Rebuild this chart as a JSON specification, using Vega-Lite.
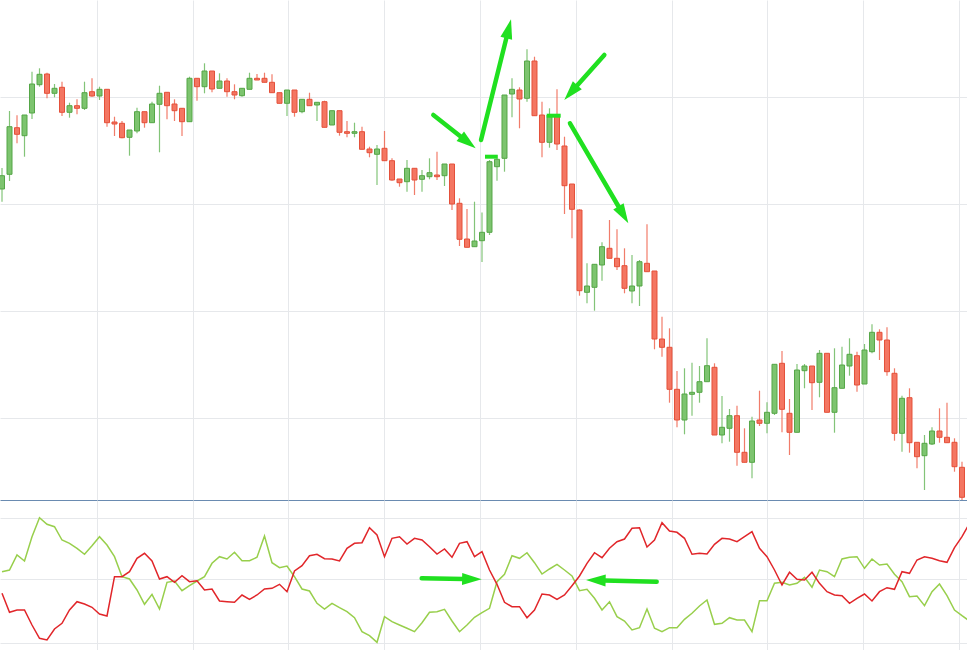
{
  "$schema": "https://vega.github.io/schema/vega-lite/v6.json",
  "description": "Candlestick chart with a vortex-style indicator underneath and green annotation arrows",
  "background": "white",
  "padding": 0,
  "spacing": 0,
  "bounds": "flush",
  "resolve": {"scale": {"color": "independent", "fill": "independent", "stroke": "independent"}},
  "config": {
    "view": {"stroke": null},
    "axis": {"labels": false, "ticks": false, "domain": false, "grid": true, "gridColor": "#e6e8eb", "gridWidth": 1}
  },
  "datasets": {
    "candles": [
      {"i":0,"open":131.1,"high":133.2,"low":129.83,"close":132.43},
      {"i":1,"open":132.57,"high":138.9,"low":131.9,"close":137.33},
      {"i":2,"open":137.23,"high":138.47,"low":135.67,"close":136.57},
      {"i":3,"open":136.43,"high":138.5,"low":134.33,"close":138.5},
      {"i":4,"open":138.7,"high":142.83,"low":138.1,"close":141.6},
      {"i":5,"open":141.53,"high":143.17,"low":141.33,"close":142.57},
      {"i":6,"open":142.6,"high":142.73,"low":140.17,"close":140.67},
      {"i":7,"open":140.67,"high":141.6,"low":140.27,"close":141.17},
      {"i":8,"open":141.27,"high":141.83,"low":138.4,"close":138.77},
      {"i":9,"open":138.77,"high":139.73,"low":138.23,"close":139.43},
      {"i":10,"open":139.43,"high":140.07,"low":138.57,"close":139.17},
      {"i":11,"open":139.17,"high":141.83,"low":139.0,"close":140.73},
      {"i":12,"open":140.83,"high":142.17,"low":140.33,"close":140.4},
      {"i":13,"open":140.4,"high":141.33,"low":140.0,"close":141.07},
      {"i":14,"open":141.07,"high":141.07,"low":137.33,"close":137.73},
      {"i":15,"open":137.8,"high":138.33,"low":136.4,"close":137.6},
      {"i":16,"open":137.67,"high":137.9,"low":136.17,"close":136.23},
      {"i":17,"open":136.27,"high":137.0,"low":134.43,"close":137.0},
      {"i":18,"open":136.9,"high":139.23,"low":136.67,"close":138.83},
      {"i":19,"open":138.83,"high":138.83,"low":137.23,"close":137.73},
      {"i":20,"open":137.73,"high":139.83,"low":137.73,"close":139.6},
      {"i":21,"open":139.57,"high":141.43,"low":134.77,"close":140.67},
      {"i":22,"open":140.77,"high":140.77,"low":138.07,"close":139.43},
      {"i":23,"open":139.6,"high":140.07,"low":137.9,"close":138.93},
      {"i":24,"open":139.17,"high":139.17,"low":136.4,"close":137.83},
      {"i":25,"open":137.83,"high":142.33,"low":137.83,"close":142.17},
      {"i":26,"open":142.17,"high":142.17,"low":139.93,"close":141.33},
      {"i":27,"open":141.33,"high":143.67,"low":140.67,"close":142.9},
      {"i":28,"open":142.9,"high":142.9,"low":140.77,"close":141.1},
      {"i":29,"open":141.17,"high":142.67,"low":141.17,"close":141.9},
      {"i":30,"open":141.9,"high":142.17,"low":140.33,"close":140.83},
      {"i":31,"open":140.83,"high":141.57,"low":140.07,"close":140.5},
      {"i":32,"open":140.43,"high":141.17,"low":140.33,"close":141.17},
      {"i":33,"open":141.07,"high":142.73,"low":141.07,"close":142.17},
      {"i":34,"open":142.17,"high":142.6,"low":142.0,"close":142.0},
      {"i":35,"open":142.17,"high":142.73,"low":141.77,"close":141.77},
      {"i":36,"open":141.77,"high":142.57,"low":140.73,"close":140.73},
      {"i":37,"open":140.73,"high":140.73,"low":139.67,"close":139.67},
      {"i":38,"open":139.67,"high":141.0,"low":138.4,"close":141.0},
      {"i":39,"open":141.0,"high":141.0,"low":138.33,"close":138.77},
      {"i":40,"open":138.83,"high":140.07,"low":138.67,"close":140.07},
      {"i":41,"open":140.07,"high":140.73,"low":139.43,"close":139.43},
      {"i":42,"open":139.5,"high":139.77,"low":137.9,"close":139.77},
      {"i":43,"open":139.83,"high":139.93,"low":137.27,"close":137.27},
      {"i":44,"open":137.5,"high":138.93,"low":137.5,"close":138.93},
      {"i":45,"open":138.93,"high":138.93,"low":136.43,"close":136.77},
      {"i":46,"open":136.83,"high":137.9,"low":136.27,"close":136.67},
      {"i":47,"open":136.67,"high":137.73,"low":136.27,"close":136.83},
      {"i":48,"open":136.83,"high":137.33,"low":135.07,"close":135.07},
      {"i":49,"open":135.1,"high":135.33,"low":134.27,"close":134.73},
      {"i":50,"open":134.57,"high":135.5,"low":131.5,"close":135.1},
      {"i":51,"open":135.17,"high":136.9,"low":133.93,"close":133.93},
      {"i":52,"open":133.93,"high":134.17,"low":131.93,"close":132.0},
      {"i":53,"open":132.1,"high":132.1,"low":131.33,"close":131.73},
      {"i":54,"open":131.83,"high":134.0,"low":130.83,"close":133.17},
      {"i":55,"open":133.17,"high":133.17,"low":130.5,"close":132.0},
      {"i":56,"open":132.07,"high":133.0,"low":130.83,"close":132.43},
      {"i":57,"open":132.33,"high":134.17,"low":132.07,"close":132.73},
      {"i":58,"open":132.5,"high":134.83,"low":132.0,"close":132.33},
      {"i":59,"open":132.43,"high":133.6,"low":131.4,"close":133.6},
      {"i":60,"open":133.6,"high":133.6,"low":129.0,"close":129.6},
      {"i":61,"open":129.67,"high":130.17,"low":125.4,"close":126.07},
      {"i":62,"open":126.1,"high":129.1,"low":125.27,"close":125.27},
      {"i":63,"open":125.33,"high":129.83,"low":125.33,"close":125.9},
      {"i":64,"open":125.93,"high":128.75,"low":123.8,"close":126.77},
      {"i":65,"open":126.77,"high":134.0,"low":126.5,"close":133.83},
      {"i":66,"open":133.33,"high":134.5,"low":131.93,"close":134.07},
      {"i":67,"open":134.17,"high":140.5,"low":132.83,"close":140.5},
      {"i":68,"open":140.6,"high":142.17,"low":138.27,"close":141.07},
      {"i":69,"open":141.0,"high":141.27,"low":137.17,"close":140.1},
      {"i":70,"open":140.17,"high":145.07,"low":139.83,"close":143.9},
      {"i":71,"open":143.9,"high":144.33,"low":138.43,"close":138.43},
      {"i":72,"open":138.5,"high":139.83,"low":134.27,"close":135.77},
      {"i":73,"open":135.77,"high":139.17,"low":135.23,"close":138.5},
      {"i":74,"open":138.5,"high":141.07,"low":135.0,"close":135.6},
      {"i":75,"open":135.4,"high":136.33,"low":128.6,"close":131.43},
      {"i":76,"open":131.6,"high":131.6,"low":126.17,"close":129.07},
      {"i":77,"open":129.0,"high":129.07,"low":120.43,"close":120.93},
      {"i":78,"open":120.77,"high":123.67,"low":119.67,"close":121.4},
      {"i":79,"open":121.27,"high":123.57,"low":118.93,"close":123.57},
      {"i":80,"open":123.5,"high":125.77,"low":121.93,"close":125.33},
      {"i":81,"open":125.17,"high":128.0,"low":124.17,"close":124.17},
      {"i":82,"open":124.17,"high":127.07,"low":123.0,"close":123.33},
      {"i":83,"open":123.43,"high":125.17,"low":120.67,"close":121.17},
      {"i":84,"open":120.9,"high":124.5,"low":119.67,"close":121.4},
      {"i":85,"open":121.4,"high":124.0,"low":119.4,"close":123.83},
      {"i":86,"open":123.67,"high":127.57,"low":122.83,"close":122.83},
      {"i":87,"open":122.9,"high":122.9,"low":115.07,"close":116.1},
      {"i":88,"open":116.1,"high":118.33,"low":114.33,"close":115.27},
      {"i":89,"open":115.27,"high":117.17,"low":109.73,"close":111.07},
      {"i":90,"open":111.07,"high":112.9,"low":107.27,"close":108.0},
      {"i":91,"open":108.0,"high":113.17,"low":106.57,"close":110.6},
      {"i":92,"open":110.57,"high":113.73,"low":108.43,"close":110.77},
      {"i":93,"open":110.77,"high":113.4,"low":109.73,"close":111.83},
      {"i":94,"open":111.83,"high":116.17,"low":111.83,"close":113.43},
      {"i":95,"open":113.27,"high":113.67,"low":106.5,"close":106.5},
      {"i":96,"open":106.5,"high":110.4,"low":105.67,"close":107.27},
      {"i":97,"open":107.17,"high":109.1,"low":105.83,"close":108.43},
      {"i":98,"open":108.43,"high":109.43,"low":103.43,"close":104.77},
      {"i":99,"open":104.77,"high":107.17,"low":103.77,"close":103.77},
      {"i":100,"open":103.77,"high":108.33,"low":102.17,"close":107.9},
      {"i":101,"open":108.0,"high":110.93,"low":107.4,"close":107.67},
      {"i":102,"open":107.67,"high":109.77,"low":106.67,"close":108.77},
      {"i":103,"open":108.67,"high":113.57,"low":108.5,"close":113.57},
      {"i":104,"open":113.67,"high":114.9,"low":106.77,"close":109.07},
      {"i":105,"open":108.67,"high":110.1,"low":104.5,"close":106.77},
      {"i":106,"open":106.77,"high":113.6,"low":106.77,"close":113.0},
      {"i":107,"open":112.93,"high":113.6,"low":111.17,"close":113.4},
      {"i":108,"open":113.4,"high":113.4,"low":109.0,"close":111.73},
      {"i":109,"open":111.77,"high":115.0,"low":110.27,"close":114.67},
      {"i":110,"open":114.67,"high":114.67,"low":108.77,"close":108.77},
      {"i":111,"open":108.77,"high":115.17,"low":106.73,"close":111.23},
      {"i":112,"open":111.17,"high":115.33,"low":111.17,"close":113.5},
      {"i":113,"open":113.4,"high":116.17,"low":112.43,"close":114.57},
      {"i":114,"open":114.43,"high":114.83,"low":110.83,"close":111.5},
      {"i":115,"open":111.6,"high":115.6,"low":111.6,"close":115.0},
      {"i":116,"open":114.83,"high":117.57,"low":114.67,"close":116.77},
      {"i":117,"open":116.77,"high":117.07,"low":114.0,"close":116.0},
      {"i":118,"open":116.0,"high":117.27,"low":112.43,"close":112.83},
      {"i":119,"open":112.67,"high":113.17,"low":105.93,"close":106.67},
      {"i":120,"open":106.67,"high":110.43,"low":104.83,"close":110.17},
      {"i":121,"open":110.23,"high":111.17,"low":104.73,"close":105.73},
      {"i":122,"open":105.77,"high":105.77,"low":103.17,"close":104.33},
      {"i":123,"open":104.43,"high":106.5,"low":101.0,"close":105.67},
      {"i":124,"open":105.6,"high":107.27,"low":105.5,"close":106.9},
      {"i":125,"open":106.9,"high":109.17,"low":105.73,"close":106.27},
      {"i":126,"open":106.27,"high":109.73,"low":105.73,"close":105.73},
      {"i":127,"open":105.77,"high":106.17,"low":102.83,"close":103.33},
      {"i":128,"open":103.27,"high":103.83,"low":99.73,"close":100.27}
    ],
    "vortex": [
      {"i":0,"plus":1.033,"minus":0.817},{"i":1,"plus":1.05,"minus":0.627},{"i":2,"plus":1.2,"minus":0.65},
      {"i":3,"plus":1.14,"minus":0.65},{"i":4,"plus":1.383,"minus":0.5},{"i":5,"plus":1.573,"minus":0.367},
      {"i":6,"plus":1.507,"minus":0.35},{"i":7,"plus":1.483,"minus":0.46},{"i":8,"plus":1.35,"minus":0.517},
      {"i":9,"plus":1.317,"minus":0.65},{"i":10,"plus":1.267,"minus":0.733},{"i":11,"plus":1.207,"minus":0.71},
      {"i":12,"plus":1.293,"minus":0.677},{"i":13,"plus":1.383,"minus":0.61},{"i":14,"plus":1.3,"minus":0.59},
      {"i":15,"plus":1.183,"minus":0.983},{"i":16,"plus":0.983,"minus":0.983},{"i":17,"plus":0.96,"minus":1.033},
      {"i":18,"plus":0.85,"minus":1.167},{"i":19,"plus":0.707,"minus":1.217},{"i":20,"plus":0.807,"minus":1.14},
      {"i":21,"plus":0.66,"minus":0.96},{"i":22,"plus":0.927,"minus":0.983},{"i":23,"plus":0.94,"minus":0.927},
      {"i":24,"plus":0.843,"minus":0.993},{"i":25,"plus":0.893,"minus":0.933},{"i":26,"plus":0.94,"minus":0.943},
      {"i":27,"plus":0.983,"minus":0.85},{"i":28,"plus":1.117,"minus":0.86},{"i":29,"plus":1.183,"minus":0.74},
      {"i":30,"plus":1.16,"minus":0.733},{"i":31,"plus":1.227,"minus":0.727},{"i":32,"plus":1.143,"minus":0.8},
      {"i":33,"plus":1.143,"minus":0.757},{"i":34,"plus":1.177,"minus":0.8},{"i":35,"plus":1.39,"minus":0.86},
      {"i":36,"plus":1.123,"minus":0.867},{"i":37,"plus":1.073,"minus":0.907},{"i":38,"plus":1.09,"minus":0.833},
      {"i":39,"plus":0.983,"minus":1.04},{"i":40,"plus":0.86,"minus":1.093},{"i":41,"plus":0.84,"minus":1.193},
      {"i":42,"plus":0.717,"minus":1.207},{"i":43,"plus":0.66,"minus":1.163},{"i":44,"plus":0.717,"minus":1.16},
      {"i":45,"plus":0.673,"minus":1.14},{"i":46,"plus":0.633,"minus":1.267},{"i":47,"plus":0.573,"minus":1.317},
      {"i":48,"plus":0.433,"minus":1.323},{"i":49,"plus":0.393,"minus":1.473},{"i":50,"plus":0.327,"minus":1.4},
      {"i":51,"plus":0.583,"minus":1.183},{"i":52,"plus":0.533,"minus":1.367},{"i":53,"plus":0.5,"minus":1.383},
      {"i":54,"plus":0.467,"minus":1.31},{"i":55,"plus":0.433,"minus":1.367},{"i":56,"plus":0.523,"minus":1.35},
      {"i":57,"plus":0.627,"minus":1.283},{"i":58,"plus":0.633,"minus":1.21},{"i":59,"plus":0.657,"minus":1.26},
      {"i":60,"plus":0.54,"minus":1.177},{"i":61,"plus":0.433,"minus":1.317},{"i":62,"plus":0.5,"minus":1.333},
      {"i":63,"plus":0.577,"minus":1.183},{"i":64,"plus":0.623,"minus":1.233},{"i":65,"plus":0.667,"minus":1.05},
      {"i":66,"plus":0.933,"minus":0.907},{"i":67,"plus":1.007,"minus":0.727},{"i":68,"plus":1.193,"minus":0.683},
      {"i":69,"plus":1.167,"minus":0.683},{"i":70,"plus":1.223,"minus":0.573},{"i":71,"plus":1.123,"minus":0.65},
      {"i":72,"plus":1.01,"minus":0.81},{"i":73,"plus":1.06,"minus":0.8},{"i":74,"plus":1.107,"minus":0.757},
      {"i":75,"plus":1.05,"minus":0.8},{"i":76,"plus":0.99,"minus":0.893},{"i":77,"plus":0.843,"minus":0.99},
      {"i":78,"plus":0.857,"minus":1.117},{"i":79,"plus":0.767,"minus":1.223},{"i":80,"plus":0.65,"minus":1.173},
      {"i":81,"plus":0.733,"minus":1.267},{"i":82,"plus":0.583,"minus":1.333},{"i":83,"plus":0.54,"minus":1.36},
      {"i":84,"plus":0.45,"minus":1.467},{"i":85,"plus":0.473,"minus":1.473},{"i":86,"plus":0.66,"minus":1.28},
      {"i":87,"plus":0.467,"minus":1.35},{"i":88,"plus":0.433,"minus":1.523},{"i":89,"plus":0.473,"minus":1.44},
      {"i":90,"plus":0.473,"minus":1.427},{"i":91,"plus":0.557,"minus":1.367},{"i":92,"plus":0.617,"minus":1.207},
      {"i":93,"plus":0.69,"minus":1.217},{"i":94,"plus":0.75,"minus":1.21},{"i":95,"plus":0.507,"minus":1.307},
      {"i":96,"plus":0.517,"minus":1.367},{"i":97,"plus":0.573,"minus":1.36},{"i":98,"plus":0.55,"minus":1.333},
      {"i":99,"plus":0.55,"minus":1.383},{"i":100,"plus":0.433,"minus":1.433},{"i":101,"plus":0.743,"minus":1.267},
      {"i":102,"plus":0.743,"minus":1.183},{"i":103,"plus":0.917,"minus":1.05},{"i":104,"plus":0.927,"minus":0.9},
      {"i":105,"plus":0.9,"minus":1.027},{"i":106,"plus":0.917,"minus":0.957},{"i":107,"plus":0.977,"minus":0.95},
      {"i":108,"plus":0.877,"minus":1.027},{"i":109,"plus":1.05,"minus":0.917},{"i":110,"plus":1.033,"minus":0.833},
      {"i":111,"plus":0.983,"minus":0.8},{"i":112,"plus":1.16,"minus":0.793},{"i":113,"plus":1.177,"minus":0.717},
      {"i":114,"plus":1.183,"minus":0.767},{"i":115,"plus":1.067,"minus":0.81},{"i":116,"plus":1.16,"minus":0.74},
      {"i":117,"plus":1.1,"minus":0.833},{"i":118,"plus":1.11,"minus":0.873},{"i":119,"plus":1.007,"minus":0.857},
      {"i":120,"plus":0.933,"minus":1.033},{"i":121,"plus":0.783,"minus":1.017},{"i":122,"plus":0.79,"minus":1.15},
      {"i":123,"plus":0.693,"minus":1.183},{"i":124,"plus":0.833,"minus":1.167},{"i":125,"plus":0.91,"minus":1.143},
      {"i":126,"plus":0.793,"minus":1.127},{"i":127,"plus":0.65,"minus":1.273},{"i":128,"plus":0.593,"minus":1.383},
      {"i":129,"plus":0.54,"minus":1.517}
    ],
    "arrowsTop": [
      {"x0":57.51,"y0":138.5,"x1":63.16,"y1":135.17},
      {"x0":63.87,"y0":136.0,"x1":67.87,"y1":148.07},
      {"x0":80.31,"y0":144.5,"x1":74.97,"y1":140.0},
      {"x0":75.73,"y0":137.67,"x1":83.51,"y1":127.67}
    ],
    "highMarks": [
      {"x0":64.4,"x1":66.09,"y":134.33},
      {"x0":72.63,"x1":74.49,"y":138.43}
    ],
    "arrowsLow": [
      {"x0":55.96,"y0":0.967,"x1":63.96,"y1":0.957},
      {"x0":87.29,"y0":0.933,"x1":77.87,"y1":0.95}
    ]
  },
  "vconcat": [
    {
      "width": 967,
      "height": 500,
      "layer": [
        {
          "data": {"name": "candles"},
          "transform": [{"calculate": "datum.close >= datum.open ? 'up' : 'down'", "as": "dir"}],
          "mark": {"type": "rule", "strokeWidth": 1.2, "opacity": 0.85, "clip": true},
          "encoding": {
            "x": {"field": "i", "type": "quantitative", "scale": {"domain": [-0.267, 128.667], "nice": false, "zero": false, "padding": 0},
                  "axis": {"title": null, "values": [12.67, 25.47, 38.13, 50.93, 63.73, 76.53, 89.33, 102.0, 114.8, 127.6], "domain": true, "domainColor": "#6a8bb1", "domainWidth": 1}},
            "y": {"field": "low", "type": "quantitative", "scale": {"domain": [100, 150], "nice": false, "zero": false},
                  "axis": {"title": null, "values": [108.2, 118.9, 129.6, 140.3]}},
            "y2": {"field": "high"},
            "color": {"field": "dir", "type": "nominal", "scale": {"domain": ["up", "down"], "range": ["#6dba60", "#ef6550"]}, "legend": null}
          }
        },
        {
          "data": {"name": "candles"},
          "transform": [{"calculate": "datum.close >= datum.open ? 'up' : 'down'", "as": "dir"}],
          "mark": {"type": "bar", "width": 5, "strokeWidth": 1, "clip": true},
          "encoding": {
            "x": {"field": "i", "type": "quantitative", "scale": {"domain": [-0.267, 128.667], "nice": false, "zero": false, "padding": 0}},
            "y": {"field": "open", "type": "quantitative", "scale": {"domain": [100, 150], "nice": false, "zero": false}},
            "y2": {"field": "close"},
            "fill": {"field": "dir", "type": "nominal", "scale": {"domain": ["up", "down"], "range": ["#7dc46f", "#f47662"]}, "legend": null},
            "stroke": {"field": "dir", "type": "nominal", "scale": {"domain": ["up", "down"], "range": ["#55a647", "#e4503a"]}, "legend": null}
          }
        },
        {
          "data": {"name": "highMarks"},
          "mark": {"type": "rule", "color": "#20e020", "strokeWidth": 4},
          "encoding": {
            "x": {"field": "x0", "type": "quantitative", "scale": {"domain": [-0.267, 128.667], "nice": false, "zero": false, "padding": 0}},
            "x2": {"field": "x1"},
            "y": {"field": "y", "type": "quantitative", "scale": {"domain": [100, 150], "nice": false, "zero": false}}
          }
        },
        {
          "data": {"name": "arrowsTop"},
          "transform": [
            {"calculate": "(datum.x1 - datum.x0) * 7.5", "as": "dxp"},
            {"calculate": "(datum.y1 - datum.y0) * 10", "as": "dyp"},
            {"calculate": "sqrt(datum.dxp * datum.dxp + datum.dyp * datum.dyp)", "as": "len"},
            {"calculate": "datum.x1 - datum.dxp / datum.len * 18 / 7.5", "as": "ex"},
            {"calculate": "datum.y1 - datum.dyp / datum.len * 18 / 10", "as": "ey"},
            {"calculate": "atan2(datum.dxp, datum.dyp) * 180 / PI", "as": "ang"}
          ],
          "layer": [
            {
              "mark": {"type": "rule", "color": "#20e020", "strokeWidth": 4.5, "strokeCap": "round"},
              "encoding": {
                "x": {"field": "x0", "type": "quantitative", "scale": {"domain": [-0.267, 128.667], "nice": false, "zero": false, "padding": 0}},
                "x2": {"field": "ex"},
                "y": {"field": "y0", "type": "quantitative", "scale": {"domain": [100, 150], "nice": false, "zero": false}},
                "y2": {"field": "ey"}
              }
            },
            {
              "mark": {"type": "point", "shape": "M0,-2.25L0.75,0.2L-0.75,0.2Z", "filled": true, "size": 256, "opacity": 1, "color": "#20e020", "strokeWidth": 0},
              "encoding": {
                "x": {"field": "ex", "type": "quantitative", "scale": {"domain": [-0.267, 128.667], "nice": false, "zero": false, "padding": 0}},
                "y": {"field": "ey", "type": "quantitative", "scale": {"domain": [100, 150], "nice": false, "zero": false}},
                "angle": {"field": "ang", "type": "quantitative", "scale": null}
              }
            }
          ]
        }
      ]
    },
    {
      "width": 967,
      "height": 150,
      "layer": [
        {
          "data": {"name": "vortex"},
          "transform": [{"fold": ["plus", "minus"], "as": ["series", "value"]}],
          "mark": {"type": "line", "strokeWidth": 1.5, "clip": true},
          "encoding": {
            "x": {"field": "i", "type": "quantitative", "scale": {"domain": [-0.267, 128.667], "nice": false, "zero": false, "padding": 0},
                  "axis": {"title": null, "values": [12.67, 25.47, 38.13, 50.93, 63.73, 76.53, 89.33, 102.0, 114.8, 127.6]}},
            "y": {"field": "value", "type": "quantitative", "scale": {"domain": [0.25, 1.75], "nice": false, "zero": false},
                  "axis": {"title": null, "values": [0.32, 0.96, 1.57]}},
            "color": {"field": "series", "type": "nominal", "scale": {"domain": ["plus", "minus"], "range": ["#98cf4c", "#e1262a"]}, "legend": null}
          }
        },
        {
          "data": {"name": "arrowsLow"},
          "transform": [
            {"calculate": "(datum.x1 - datum.x0) * 7.5", "as": "dxp"},
            {"calculate": "(datum.y1 - datum.y0) * 100", "as": "dyp"},
            {"calculate": "sqrt(datum.dxp * datum.dxp + datum.dyp * datum.dyp)", "as": "len"},
            {"calculate": "datum.x1 - datum.dxp / datum.len * 18 / 7.5", "as": "ex"},
            {"calculate": "datum.y1 - datum.dyp / datum.len * 18 / 100", "as": "ey"},
            {"calculate": "atan2(datum.dxp, datum.dyp) * 180 / PI", "as": "ang"}
          ],
          "layer": [
            {
              "mark": {"type": "rule", "color": "#20e020", "strokeWidth": 4.5, "strokeCap": "round"},
              "encoding": {
                "x": {"field": "x0", "type": "quantitative", "scale": {"domain": [-0.267, 128.667], "nice": false, "zero": false, "padding": 0}},
                "x2": {"field": "ex"},
                "y": {"field": "y0", "type": "quantitative", "scale": {"domain": [0.25, 1.75], "nice": false, "zero": false}},
                "y2": {"field": "ey"}
              }
            },
            {
              "mark": {"type": "point", "shape": "M0,-2.25L0.75,0.2L-0.75,0.2Z", "filled": true, "size": 256, "opacity": 1, "color": "#20e020", "strokeWidth": 0},
              "encoding": {
                "x": {"field": "ex", "type": "quantitative", "scale": {"domain": [-0.267, 128.667], "nice": false, "zero": false, "padding": 0}},
                "y": {"field": "ey", "type": "quantitative", "scale": {"domain": [0.25, 1.75], "nice": false, "zero": false}},
                "angle": {"field": "ang", "type": "quantitative", "scale": null}
              }
            }
          ]
        }
      ]
    }
  ]
}
